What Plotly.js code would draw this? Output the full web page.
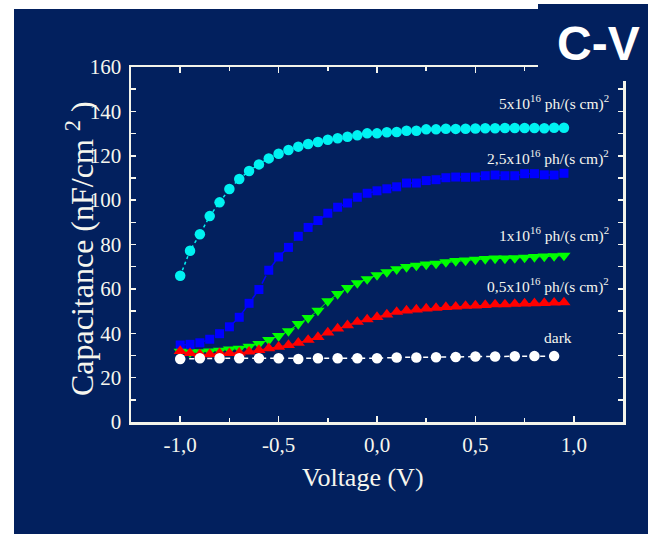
<!DOCTYPE html>
<html>
<head>
<meta charset="utf-8">
<script src="https://cdn.plot.ly/plotly-3.0.1.min.js"></script>
<style>html,body{margin:0;padding:0;background:#ffffff;}#chart{width:648px;height:534px;}</style>
</head>
<body>
<div id="chart"></div>
<script>
// ---- data ----
const voltage = [-1.00,-0.95,-0.90,-0.85,-0.80,-0.75,-0.70,-0.65,-0.60,-0.55,-0.50,-0.45,-0.40,-0.35,-0.30,-0.25,-0.20,-0.15,-0.10,-0.05,
                 0.00,0.05,0.10,0.15,0.20,0.25,0.30,0.35,0.40,0.45,0.50,0.55,0.60,0.65,0.70,0.75,0.80,0.85,0.90,0.95];
const cap5x16 = [65.9,77.2,84.6,92.8,99.0,105.0,109.5,113.1,116.1,118.8,120.9,122.6,124.1,125.3,126.2,127.2,127.9,128.6,129.2,130.1,
                 130.1,130.6,130.7,131.3,131.3,131.9,131.9,132.2,132.1,132.2,132.3,132.4,132.4,132.5,132.5,132.5,132.5,132.4,132.6,132.6];
const cap25x16 = [34.7,35.0,35.7,37.3,39.8,42.9,47.2,53.5,59.7,68.4,74.4,78.7,83.7,87.7,90.8,94.1,96.8,98.7,101.3,103.1,
                  104.2,105.1,106.0,107.7,107.7,108.8,109.2,110.1,110.4,110.3,110.4,111.0,111.3,111.0,111.0,111.9,111.9,111.4,111.3,112.1];
const cap1x16 = [31.7,31.4,31.5,31.8,32.2,32.7,33.1,34.0,35.2,37.0,38.8,41.0,44.2,46.9,50.2,54.5,57.7,60.4,62.6,64.4,
                 66.2,67.6,68.9,69.9,70.5,71.0,71.4,72.1,72.6,72.8,73.2,73.5,73.7,73.7,73.9,74.1,74.4,74.6,74.8,75.0];
const cap05x16 = [32.0,31.0,30.5,30.5,31.0,31.0,31.2,31.7,32.4,33.2,33.9,34.7,35.7,37.0,38.3,40.3,42.1,43.6,45.1,46.2,
                  47.3,48.4,49.6,50.2,50.7,51.1,51.4,51.8,52.0,52.3,52.5,52.7,53.0,53.0,53.2,53.4,53.5,53.6,53.8,53.9];
const voltageDark = [-1.0,-0.9,-0.8,-0.7,-0.6,-0.5,-0.4,-0.3,-0.2,-0.1,0.0,0.1,0.2,0.3,0.4,0.5,0.6,0.7,0.8,0.9];
const capDark = [28.4,28.7,28.7,28.7,28.7,28.7,28.4,28.7,28.7,28.7,28.7,29.1,29.1,29.2,29.3,29.5,29.5,29.6,29.7,29.7];

const xTickVals = [-1.0,-0.5,0.0,0.5,1.0];
const xTickText = ['-1,0','-0,5','0,0','0,5','1,0'];
const yTickVals = [0,20,40,60,80,100,120,140,160];

const seriesLabels = ['5x10<sup>16</sup> ph/(s cm)<sup>2</sup>','2,5x10<sup>16</sup> ph/(s cm)<sup>2</sup>',
                      '1x10<sup>16</sup> ph/(s cm)<sup>2</sup>','0,5x10<sup>16</sup> ph/(s cm)<sup>2</sup>','dark'];
const labelY = [143.8,119.4,84.3,61.3,37.9];

// ---- styles / layout helpers ----
const NAVY = '#02205e';
const TXT = '#f6f6ee';
const SERIF = '"Liberation Serif", "Times New Roman", serif';
const W = 648, H = 534;
const M = {l:131, r:25, t:67, b:112};
const PW = W - M.l - M.r, PH = H - M.t - M.b;
const px = x => (x - M.l) / PW;
const py = y => (H - M.b - y) / PH;

const traces = [
  {x: voltage, y: cap5x16, mode:'lines+markers', line:{color:'#00f2f2', width:1.5, dash:'dot'},
   marker:{symbol:'circle', size:10.5, color:'#00f2f2'}},
  {x: voltage, y: cap25x16, mode:'lines+markers', line:{color:'#0000ff', width:1.5, dash:'dash'},
   marker:{symbol:'square', size:9, color:'#0000ff'}},
  {x: voltage, y: cap1x16, mode:'lines+markers', line:{color:'#00ff00', width:1},
   marker:{symbol:'triangle-down', size:11.5, color:'#00ff00'}},
  {x: voltage, y: cap05x16, mode:'lines+markers', line:{color:'#ff0000', width:1},
   marker:{symbol:'triangle-up', size:11.5, color:'#ff0000'}},
  {x: voltageDark, y: capDark, mode:'lines+markers', line:{color:'#ffffff', width:1.5, dash:'5px,4px'},
   marker:{symbol:'circle', size:10.5, color:'#ffffff'}}
];

const annotations = seriesLabels.map((t,i) => ({
  xref:'x', yref:'y', x: i === 4 ? 0.92 : 1.19, y: labelY[i], text: t, showarrow:false,
  xanchor: i === 4 ? 'center' : 'right', yanchor:'middle',
  font:{family:SERIF, size:15.5, color:TXT}
}));
annotations.push({xref:'paper', yref:'paper', x:px(598), y:py(43), text:'<b>C-V</b>', showarrow:false,
  xanchor:'center', yanchor:'middle', font:{family:'"Liberation Sans", Arial, sans-serif', size:48, color:'#ffffff'}});
annotations.push({xref:'paper', yref:'paper', x:px(363), y:py(477), text:'Voltage (V)', showarrow:false,
  xanchor:'center', yanchor:'middle', font:{family:SERIF, size:26, color:TXT}});
annotations.push({xref:'paper', yref:'paper', x:px(80), y:py(249), text:'Capacitance (nF/cm <sup>2</sup> )', showarrow:false,
  textangle:-90, xanchor:'center', yanchor:'middle', font:{family:SERIF, size:32, color:TXT}});

const layout = {
  width:W, height:H, margin:{l:M.l, r:M.r, t:M.t, b:M.b, pad:0},
  paper_bgcolor:'#ffffff', plot_bgcolor:NAVY, showlegend:false,
  font:{family:SERIF, color:TXT},
  xaxis:{range:[-1.25,1.25], tickmode:'array', tickvals:xTickVals, ticktext:xTickText,
    ticks:'inside', ticklen:6, tickwidth:1.5, tickcolor:TXT, showgrid:false, zeroline:false,
    showline:true, linecolor:'#f4f4ea', linewidth:2.5, mirror:'ticks', ticklabelstandoff:2,
    tickfont:{family:SERIF, size:21, color:TXT},
    minor:{tickmode:'linear', tick0:0, dtick:0.25, ticks:'inside', ticklen:4, tickcolor:TXT, showgrid:false}},
  yaxis:{range:[0,160], tickmode:'array', tickvals:yTickVals, ticks:'inside', ticklen:5, tickwidth:1.5, tickcolor:TXT,
    showgrid:false, zeroline:false, showline:true, linecolor:'#f4f4ea', linewidth:2.5, mirror:'ticks', ticklabelstandoff:3,
    tickfont:{family:SERIF, size:21, color:TXT},
    minor:{tickmode:'linear', tick0:0, dtick:10, ticks:'inside', ticklen:5, tickcolor:TXT, showgrid:false}},
  shapes:[
    {type:'rect', xref:'paper', yref:'paper', x0:px(14), x1:px(648), y0:py(534), y1:py(9),
     fillcolor:NAVY, line:{width:0}, layer:'below'},
    {type:'rect', xref:'paper', yref:'paper', x0:px(538), x1:px(648), y0:py(81), y1:py(4),
     fillcolor:NAVY, line:{width:0}, layer:'above'}
  ],
  annotations: annotations
};

Plotly.newPlot('chart', traces, layout, {displayModeBar:false, staticPlot:true});
</script>
</body>
</html>
